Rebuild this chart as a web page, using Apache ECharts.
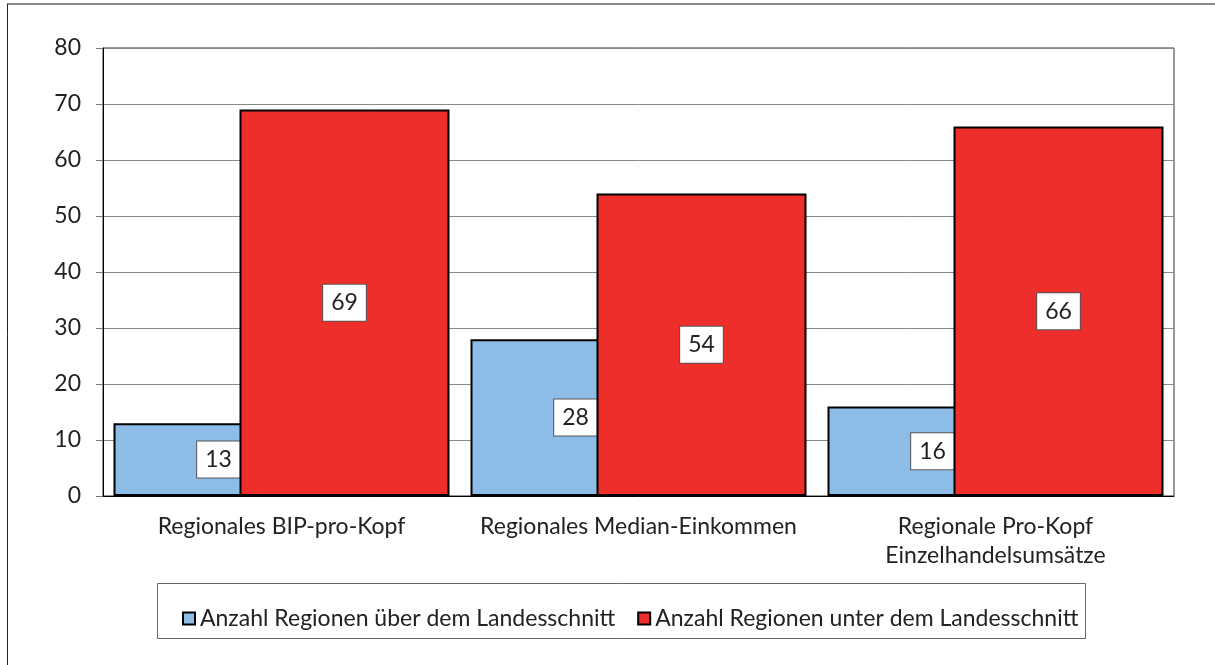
<!DOCTYPE html>
<html lang="de">
<head>
<meta charset="UTF-8">
<title>Regionen über / unter dem Landesschnitt</title>
<script src="https://cdn.jsdelivr.net/npm/echarts@6/dist/echarts.min.js"></script>
<style>
  html, body { margin: 0; padding: 0; background: #fff; }
  #chart { width: 1215px; height: 665px; }
</style>
</head>
<body>
<div id="chart"></div>
<script>
// data
const categories = [
  'Regionales BIP-pro-Kopf',
  'Regionales Median-Einkommen',
  'Regionale Pro-Kopf\nEinzelhandelsumsätze'
];
const seriesNames = [
  'Anzahl Regionen über dem Landesschnitt',
  'Anzahl Regionen unter dem Landesschnitt'
];
const aboveValues = [13, 28, 16];
const belowValues = [69, 54, 66];
const yTicks = { min: 0, max: 80, interval: 10 };

const FONT = 'Lato, "Open Sans", sans-serif';

const valueLabel = {
  show: true,
  position: 'inside',
  color: '#222',
  fontFamily: FONT,
  fontSize: 23,
  backgroundColor: '#fff',
  borderColor: '#555',
  borderWidth: 1,
  padding: [7, 8, 6, 8]
};

const chart = echarts.init(document.getElementById('chart'));
chart.setOption({
  animation: false,
  textStyle: { fontFamily: FONT },
  grid: {
    left: 103, right: 41, top: 48, bottom: 169,
    show: true, borderColor: '#333', borderWidth: 1
  },
  legend: {
    left: 177,
    top: 602,
    icon: 'rect',
    itemWidth: 12,
    itemHeight: 12,
    itemGap: 22,
    textStyle: { fontFamily: FONT, fontSize: 23, color: '#222' },
    data: seriesNames
  },
  xAxis: {
    type: 'category',
    data: categories,
    axisLine: { lineStyle: { color: '#000', width: 1 } },
    axisTick: { length: 8, lineStyle: { color: '#777' } },
    axisLabel: {
      interval: 0, color: '#222', fontSize: 23, margin: 16, lineHeight: 29
    }
  },
  yAxis: {
    type: 'value',
    min: yTicks.min, max: yTicks.max, interval: yTicks.interval,
    axisLine: { show: true, lineStyle: { color: '#000', width: 1 } },
    axisTick: { show: true, length: 7, lineStyle: { color: '#777' } },
    axisLabel: { color: '#222', fontSize: 23, margin: 22 },
    splitLine: { lineStyle: { color: '#888', width: 1 } }
  },
  series: [
    {
      name: seriesNames[0],
      type: 'bar',
      data: aboveValues,
      barWidth: 210,
      barGap: '-40%',
      z: 2,
      itemStyle: { color: '#8DBDE6', borderColor: '#000', borderWidth: 2 },
      label: valueLabel
    },
    {
      name: seriesNames[1],
      type: 'bar',
      data: belowValues,
      barWidth: 210,
      z: 3,
      itemStyle: { color: '#EE2E2B', borderColor: '#000', borderWidth: 2 },
      label: valueLabel
    }
  ],
  graphic: [
    // outer frame (only top and left edges visible in the original)
    { type: 'line', shape: { x1: 7, y1: 4, x2: 1215, y2: 4 },
      style: { stroke: '#888', lineWidth: 2 }, silent: true },
    { type: 'line', shape: { x1: 7.5, y1: 4, x2: 7.5, y2: 665 },
      style: { stroke: '#222', lineWidth: 1 }, silent: true },
    // legend frame
    { type: 'rect', shape: { x: 157.5, y: 583.5, width: 928, height: 55 },
      style: { fill: 'none', stroke: '#666', lineWidth: 1 }, silent: true, z: -1 }
  ]
});
</script>
</body>
</html>
